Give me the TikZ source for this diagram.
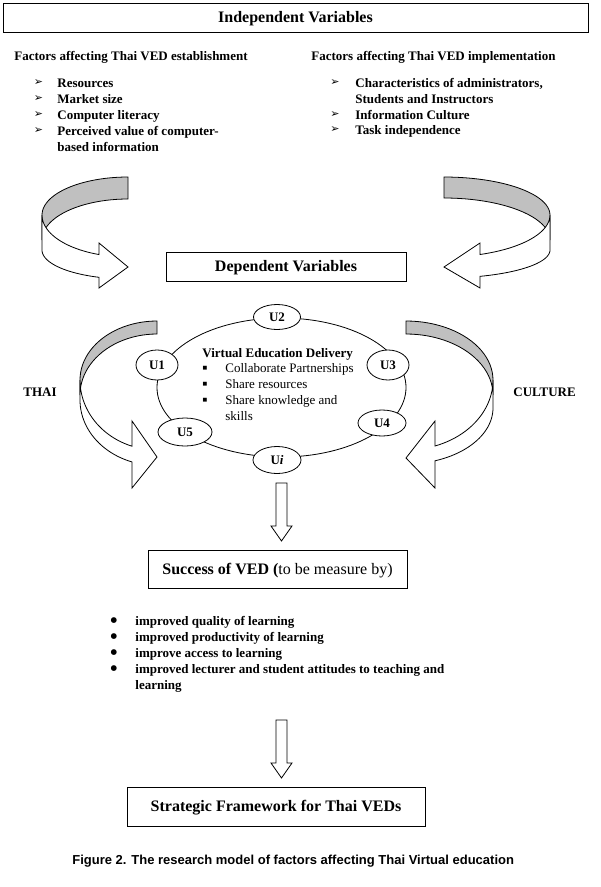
\documentclass[tikz,border=0pt]{standalone}
\usepackage{fontspec}
\setmainfont{Liberation Serif}
\setsansfont{Liberation Sans}
\newfontfamily\symfont{DejaVu Sans}
\usetikzlibrary{shapes.geometric,calc}

\definecolor{bandgray}{HTML}{C0C0C0}

\tikzset{
    titlebox/.style={draw, inner sep=0pt,
        font=\fontsize{16}{19}\selectfont\bfseries,
        text height=11pt, text depth=1pt},
    factor/.style={anchor=base west, inner sep=0pt, yshift=-4.3pt,
        font=\fontsize{13}{16}\selectfont\bfseries},
    plaintext/.style={anchor=base west, inner sep=0pt, yshift=-4.3pt,
        font=\fontsize{13}{16}\selectfont},
    arrowbullet/.style={inner sep=0pt, font=\symfont\bfseries\fontsize{11}{11}\selectfont},
    squarebullet/.style={inner sep=0pt, font=\symfont\fontsize{5}{5}\selectfont},
    dotbullet/.style={inner sep=0pt, font=\symfont\fontsize{7.5}{7.5}\selectfont},
    unode/.style={draw, ellipse, fill=white, inner sep=0pt,
        font=\fontsize{13}{16}\selectfont\bfseries},
    backband/.style={draw, fill=bandgray},
    frontband/.style={draw, fill=white},
    blockarrow/.style={draw, fill=white},
}

% block arrow pointing down from #1 to #2
\newcommand{\downblock}[2]{
    \draw[blockarrow] ($(#1)+(-5.5,0)$) -- ($(#1)+(5.5,0)$)
        -- ($(#2)+(5.5,-15)$) -- ($(#2)+(10.5,-15)$) -- (#2)
        -- ($(#2)+(-10.5,-15)$) -- ($(#2)+(-5.5,-15)$) -- cycle;
}

\begin{document}
\begin{tikzpicture}[x=1pt, y=-1pt, line width=0.8pt]
    \useasboundingbox (0,0) rectangle (601,887);

    % Independent variables
    \node[titlebox,
        minimum width=585pt,
        minimum height=29pt] (indep) at (295.5,17.5) {Independent Variables};

    % Factors affecting establishment
    \node[factor] (estab) at (14,56) {Factors affecting Thai VED establishment};
    \foreach \y/\txt [count=\i] in {83/Resources, 99/Market size,
        115/Computer literacy, 131/Perceived value of computer-}{
        \node[arrowbullet] (eb\i) at (38.5,\y) {➢};
        \node[factor] (ef\i) at (57,\y) {\txt};
    }
    \node[factor] (ef5) at (57,147) {based information};

    % Factors affecting implementation
    \node[factor] (implem) at (311,56) {Factors affecting Thai VED implementation};
    \foreach \y/\txt [count=\i] in {83/{Characteristics of administrators,},
        115/Information Culture, 130/Task independence}{
        \node[arrowbullet] (ib\i) at (335,\y) {➢};
        \node[factor] (if\i) at (355,\y) {\txt};
    }
    \node[factor] (if4) at (355,99) {Students and Instructors};

    % Upper curved arrows
    \draw[backband] plot[domain=270:180] ({128+86*cos(\x)},{215+38*sin(\x)})
        -- plot[domain=180:270] ({128+86*cos(\x)},{240+41*sin(\x)}) -- cycle;
    \draw[frontband] plot[domain=180:109.7] ({128+86*cos(\x)},{215+42*sin(\x)})
        -- (99,243) -- (128,267) -- (99,288)
        -- plot[domain=109.7:180] ({128+86*cos(\x)},{250+29*sin(\x)}) -- cycle;

    \draw[backband] plot[domain=270:360] ({444+106*cos(\x)},{215+38*sin(\x)})
        -- plot[domain=360:270] ({444+106*cos(\x)},{240+42*sin(\x)}) -- cycle;
    \draw[frontband] plot[domain=0:70.1] ({444+106*cos(\x)},{215+42*sin(\x)})
        -- (480,243) -- (444,267) -- (480,288)
        -- plot[domain=70.1:0] ({444+106*cos(\x)},{250+28*sin(\x)}) -- cycle;

    % Dependent variables
    \node[titlebox,
        minimum width=240pt,
        minimum height=29pt] (dep) at (286,266.5) {Dependent Variables};

    % Lower curved arrows
    \draw[backband] plot[domain=270:180] ({157+77*cos(\x)},{380+59*sin(\x)})
        -- plot[domain=180:270] ({157+77*cos(\x)},{395+61*sin(\x)}) -- cycle;
    \draw[frontband] plot[domain=180:108.95] ({157+77*cos(\x)},{380+70*sin(\x)})
        -- (132,421) -- (157,457) -- (132,488)
        -- plot[domain=108.95:180] ({157+77*cos(\x)},{400+65.5*sin(\x)}) -- cycle;

    \draw[backband] plot[domain=270:360] ({406+87*cos(\x)},{380+59*sin(\x)})
        -- plot[domain=360:270] ({406+87*cos(\x)},{395+61*sin(\x)}) -- cycle;
    \draw[frontband] plot[domain=0:70.53] ({406+87*cos(\x)},{380+70*sin(\x)})
        -- (435,421) -- (406,458) -- (435,488)
        -- plot[domain=70.53:0] ({406+87*cos(\x)},{408+56*sin(\x)}) -- cycle;

    \node[factor] (thai) at (23,392) {THAI};
    \node[factor] (culture) at (513,392) {CULTURE};

    % Ring of universities
    \node[draw,
        ellipse,
        minimum width=249pt,
        minimum height=139pt] (ring) at (281.5,387.5) {};

    \node[unode, minimum width=47pt, minimum height=25pt] (u2) at (277,317) {U2};
    \node[unode, minimum width=42pt, minimum height=30pt] (u1) at (157,365) {U1};
    \node[unode, minimum width=42pt, minimum height=30pt] (u3) at (388,365) {U3};
    \node[unode, minimum width=48pt, minimum height=26pt] (u4) at (382,423) {U4};
    \node[unode, minimum width=54pt, minimum height=28pt] (u5) at (185,432) {U5};
    \node[unode, minimum width=48pt, minimum height=27pt] (ui) at (277,460) {U\textit{i}};

    % Virtual education delivery
    \node[factor] (ved) at (202,353) {Virtual Education Delivery};
    \foreach \y/\txt [count=\i] in {368/Collaborate Partnerships,
        384/Share resources, 400/Share knowledge and}{
        \node[squarebullet] (sb\i) at (205,\y) {■};
        \node[plaintext] (sv\i) at (225,\y) {\txt};
    }
    \node[plaintext] (sv4) at (225,416) {skills};

    % Success of VED
    \coordinate (a1top) at (281.5,483);
    \coordinate (a1tip) at (281.5,541);
    \downblock{a1top}{a1tip}

    \node[titlebox,
        minimum width=259pt,
        minimum height=38pt] (success) at (277.5,569)
        {Success of VED (\mdseries to be measure by)};

    \foreach \y/\txt [count=\i] in {621/improved quality of learning,
        637/improved productivity of learning, 653/improve access to learning,
        669/improved lecturer and student attitudes to teaching and}{
        \node[dotbullet] (db\i) at (114,\y) {●};
        \node[factor] (sl\i) at (135,\y) {\txt};
    }
    \node[factor] (sl5) at (135,685) {learning};

    % Strategic framework
    \coordinate (a2top) at (281.5,720);
    \coordinate (a2tip) at (281.5,778);
    \downblock{a2top}{a2tip}

    \node[titlebox,
        minimum width=298pt,
        minimum height=39pt] (strat) at (276,806.5) {Strategic Framework for Thai VEDs};

    % Caption
    \node[anchor=base west,
        inner sep=0pt,
        font=\sffamily\bfseries\fontsize{13}{15}\selectfont] (caption) at (72,864)
        {Figure 2. The research model of factors affecting Thai Virtual education};

\end{tikzpicture}
\end{document}
